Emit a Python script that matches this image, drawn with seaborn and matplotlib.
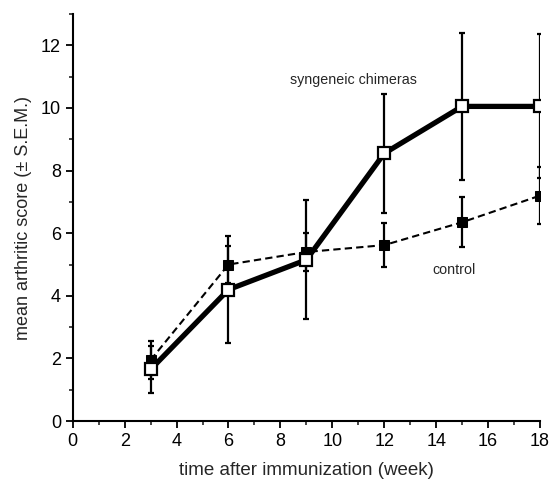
import numpy as np
import pandas as pd
import matplotlib
matplotlib.use("Agg")
import matplotlib.pyplot as plt
import seaborn as sns
from matplotlib.ticker import MultipleLocator

# Data
weeks = [3, 6, 9, 12, 15, 18]
chimera_mean = [1.65, 4.2, 5.15, 8.55, 10.05, 10.05]
chimera_sem = [0.75, 1.7, 1.9, 1.9, 2.35, 2.3]
control_mean = [1.95, 5.0, 5.4, 5.62, 6.35, 7.2]
control_sem = [0.6, 0.6, 0.6, 0.7, 0.8, 0.9]

sns.set_style("ticks")
plt.rcParams['font.family'] = ['Liberation Sans', 'DejaVu Sans']

fig = plt.figure(figsize=(5.51, 4.84), dpi=100)
ax = fig.add_axes([0.132, 0.130, 0.848, 0.841])

df_ctrl = pd.DataFrame({"week": weeks, "score": control_mean})
df_chim = pd.DataFrame({"week": weeks, "score": chimera_mean})

# control: thin dashed line, filled squares
ax.errorbar(weeks, control_mean, yerr=control_sem, fmt='none', ecolor='black',
            elinewidth=1.6, capsize=2.5, capthick=1.6, zorder=2)
sns.lineplot(data=df_ctrl, x="week", y="score", ax=ax, color='black', lw=1.5,
             linestyle=(0, (3.5, 2)), marker='s', markersize=7,
             markerfacecolor='black', markeredgecolor='black', zorder=3)

# syngeneic chimeras: thick solid line, open squares
ax.errorbar(weeks, chimera_mean, yerr=chimera_sem, fmt='none', ecolor='black',
            elinewidth=1.6, capsize=2.5, capthick=1.6, zorder=2)
sns.lineplot(data=df_chim, x="week", y="score", ax=ax, color='black', lw=3.8,
             marker='s', markersize=9, markerfacecolor='white',
             markeredgecolor='black', markeredgewidth=1.6, zorder=4)

ax.text(10.8, 10.9, "syngeneic chimeras", fontsize=10.3, ha='center', va='center')
ax.text(14.7, 4.83, "control", fontsize=10.3, ha='center', va='center')

ax.set_xlim(0, 18)
ax.set_ylim(0, 13)
ax.xaxis.set_major_locator(MultipleLocator(2))
ax.xaxis.set_minor_locator(MultipleLocator(1))
ax.yaxis.set_major_locator(MultipleLocator(2))
ax.yaxis.set_minor_locator(MultipleLocator(1))
ax.set_yticks(np.arange(0, 13, 2))
ax.tick_params(which='major', direction='out', length=5, width=1.3, labelsize=13, colors='black')
ax.tick_params(which='minor', direction='out', length=3, width=1.2)
sns.despine(ax=ax)
for s in ['left', 'bottom']:
    ax.spines[s].set_linewidth(1.5)
    ax.spines[s].set_color('black')

ax.set_xlabel("time after immunization (week)", fontsize=13.5, labelpad=9)
ax.set_ylabel("mean arthritic score (\u00b1 S.E.M.)", fontsize=13, labelpad=6)

fig.savefig("out.png", dpi=100)
